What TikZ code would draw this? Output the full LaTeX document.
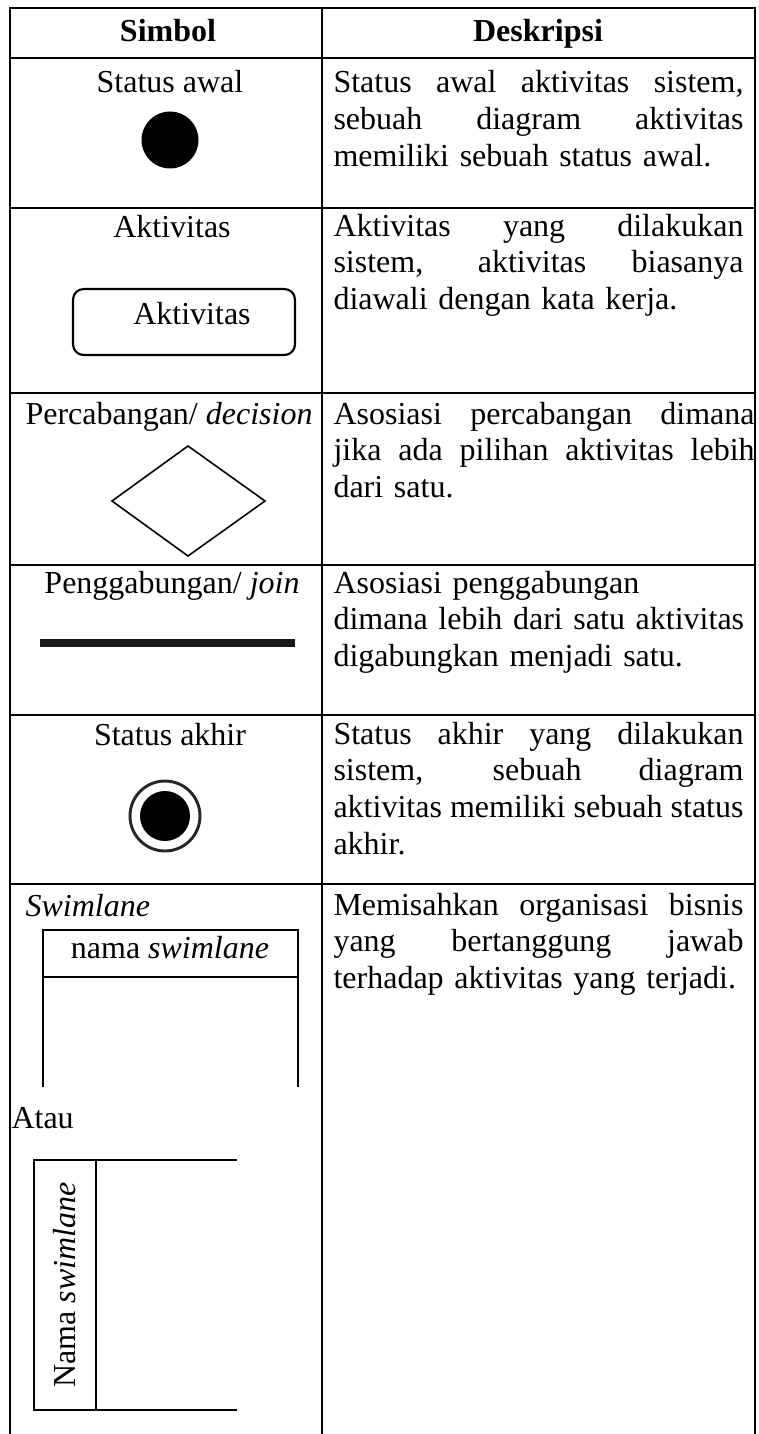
\documentclass[tikz,border=0pt]{standalone}
\usepackage{fontspec}
\setmainfont{Liberation Serif}
\usepackage{tikz}
\usetikzlibrary{positioning}

% justified line of the description column
\newcommand{\jline}[2][153.75pt]{\leavevmode{\spaceskip=0pt\xspaceskip=0pt\hbox to #1{#2}}}

\tikzset{
  tbl/.style={line width=0.75pt},
  lane/.style={line width=1.1pt},
  lbl/.style={inner sep=0pt, anchor=base},
  desc/.style={inner sep=0pt, anchor=base west, text width=160pt, align=left},
}

\begin{document}
\begin{tikzpicture}[x=0.375pt, y=-0.375pt, font=\fontsize{12}{13.8}\selectfont]
        \useasboundingbox (0,0) rectangle (758,1434);

        % Table
        \draw[tbl] (10,1434) -- (10,8) -- (755,8) -- (755,1434);
        \draw[tbl] (322,8) -- (322,1434); % column split
        \draw[tbl] (10,58) -- (755,58);
        \draw[tbl] (10,208) -- (755,208);
        \draw[tbl] (10,393) -- (755,393);
        \draw[tbl] (10,565) -- (755,565);
        \draw[tbl] (10,715) -- (755,715);
        \draw[tbl] (10,884) -- (755,884);

        % Header
        \node[lbl] (simbol) at (168,42) {\textbf{Simbol}};
        \node[lbl] (deskripsi) at (538,42) {\textbf{Deskripsi}};

        % Status awal
        \node[lbl] (awal) at (170,93) {Status awal};
        \fill (170,140) circle (28.5);
        \node[desc] (awaltxt) at (333,93) {\jline{Status awal aktivitas sistem,}\\
          \jline{sebuah diagram aktivitas}\\ memiliki sebuah status awal.};

        % Aktivitas
        \node[lbl] (akt) at (172,237) {Aktivitas};
        \draw[line width=0.8pt, rounded corners=4pt] (73,289) rectangle (295,355);
        \node[lbl] (aktbox) at (192,324) {Aktivitas};
        \node[desc] (akttxt) at (333,236) {\jline{Aktivitas yang dilakukan}\\
          \jline{sistem, aktivitas biasanya}\\ diawali dengan kata kerja.};

        % Percabangan
        \node[lbl] (dec) at (169,424) {Percabangan/ \textit{decision}};
        \draw[line width=0.6pt] (112,501) -- (188,446) -- (265,501) -- (188,556) -- cycle;
        \node[desc] (dectxt) at (333,424) {\jline[157.9pt]{Asosiasi percabangan dimana}\\
          \jline[157.9pt]{jika ada pilihan aktivitas lebih}\\ dari satu.};

        % Penggabungan
        \node[lbl] (join) at (172,593) {Penggabungan/ \textit{join}};
        \fill[black!90] (40,639) rectangle (295,647);
        \node[desc] (jointxt) at (333,593) {Asosiasi penggabungan\\
          dimana lebih dari satu aktivitas\\ digabungkan menjadi satu.};

        % Status akhir
        \node[lbl] (akhir) at (170,745) {Status akhir};
        \draw[line width=1.1pt, black!85] (165,816) circle (35);
        \fill (165,816) circle (25);
        \node[desc] (akhirtxt) at (333,744) {\jline{Status akhir yang dilakukan}\\
          \jline{sistem, sebuah diagram}\\ \jline{aktivitas memiliki sebuah status}\\ akhir.};

        % Swimlane
        \node[lbl, anchor=base west] (swim) at (25,916) {\textit{Swimlane}};
        \draw[lane] (43,1087) -- (43,930) -- (298,930) -- (298,1087);
        \draw[lane] (43,977) -- (298,977);
        \node[lbl] (swimname) at (170,958) {nama \textit{swimlane}};
        \node[lbl, anchor=base west] (atau) at (11,1128) {Atau};
        \draw[lane] (237,1160) -- (34,1160) -- (34,1410) -- (237,1410);
        \draw[lane] (96,1160) -- (96,1410);
        \node[lbl, rotate=90] (swimrot) at (75,1285) {Nama \textit{swimlane}};
        \node[desc] (swimtxt) at (333,915) {\jline{Memisahkan organisasi bisnis}\\
          \jline{yang bertanggung jawab}\\ terhadap aktivitas yang terjadi.};
    \end{tikzpicture}
\end{document}
